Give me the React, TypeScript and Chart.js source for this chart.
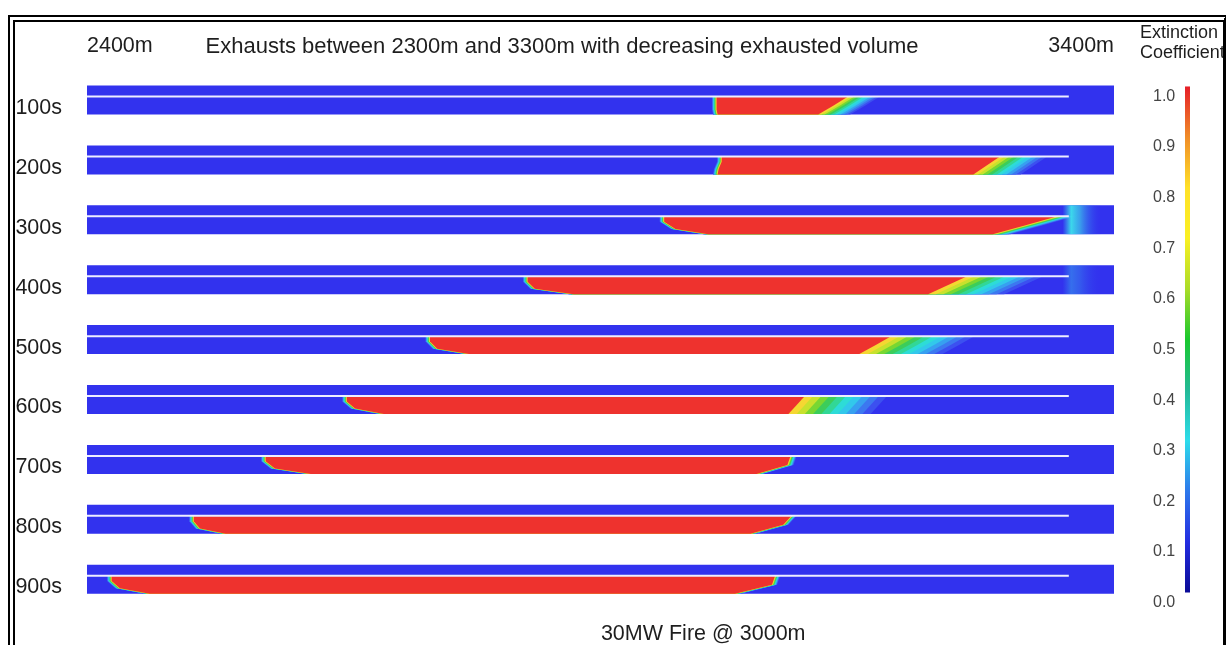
import React, { useEffect, useRef } from 'react';
import { Chart, registerables } from 'chart.js';

Chart.register(...registerables);

// ---------- data ----------
const times = ['100s', '200s', '300s', '400s', '500s', '600s', '700s', '800s', '900s'];
const axisEnds = [2400, 3400]; // tunnel section shown (m)
const ceilingEnd = 3356; // end of the exhaust duct / ceiling line (m)
const firePosition = 3000;
const fireLabel = '30MW Fire @ 3000m';
const titleText = 'Exhausts between 2300m and 3300m with decreasing exhausted volume';
const colorbarTitle = ['Extinction', 'Coefficient'];

// smoke layer (extinction coefficient ~1.0) boundaries, position in m
const leftFrontTop = [3013, 3018, 2962, 2829, 2734, 2653, 2574, 2504, 2424];
const leftFrontMid = [3013, 3015, 2973, 2836, 2741, 2661, 2583, 2510, 2432];
const leftFrontBottom = [3014, 3014, 3005, 2874, 2772, 2689, 2618, 2535, 2461];
const rightFrontTop = [3141, 3289, 3345, 3257, 3183, 3099, 3085, 3086, 3070];
const rightFrontMid = [3127, 3276, 3314, 3238, 3168, 3091, 3082, 3078, 3067];
const rightFrontBottom = [3112, 3263, 3282, 3219, 3152, 3083, 3052, 3046, 3031];
const plumeEnd = [3172, 3335, 3362, 3331, 3264, 3179, 3091, 3091, 3075];
const exhaustGlow = [0, 0, 0.95, 0.35, 0, 0, 0, 0, 0];

const colorbarTicks = [0, 0.1, 0.2, 0.3, 0.4, 0.5, 0.6, 0.7, 0.8, 0.9, 1.0];
const colorbarColors = [
  'rgb(10,10,150)', 'rgb(35,45,225)', 'rgb(45,120,235)', 'rgb(45,220,235)',
  'rgb(35,185,150)', 'rgb(25,200,45)', 'rgb(170,220,40)', 'rgb(250,240,35)',
  'rgb(255,225,40)', 'rgb(240,140,40)', 'rgb(230,30,40)',
];

// ---------- styles ----------
const FONT = '"Liberation Sans", Arial, Helvetica, sans-serif';
const BLUE = 'rgb(50,50,238)';
const RED = 'rgb(238,50,46)';
const ROW_HALF = 0.242;
const LINE_OFF = -0.058;
const LEFT_RIM = 4.5;
const rimShades: [number, string][] = [
  [1.0, 'rgb(60,80,240)'],
  [0.9, 'rgb(60,120,240)'],
  [0.8, 'rgb(55,160,240)'],
  [0.7, 'rgb(50,200,235)'],
  [0.6, 'rgb(45,220,215)'],
  [0.5, 'rgb(50,215,150)'],
  [0.4, 'rgb(60,205,90)'],
  [0.3, 'rgb(120,215,50)'],
  [0.2, 'rgb(200,225,45)'],
  [0.1, 'rgb(245,215,50)'],
];

function smokePolygon(i: number, sl: number, sr: number) {
  const yl = i + LINE_OFF;
  const yb = i + ROW_HALF;
  const h = yb - yl;
  return [
    { x: leftFrontTop[i] - sl, y: yl },
    { x: rightFrontTop[i] + sr, y: yl },
    { x: rightFrontMid[i] + sr, y: yl + 0.5 * h },
    { x: rightFrontBottom[i] + sr, y: yb },
    { x: leftFrontBottom[i] - sl, y: yb },
    { x: leftFrontMid[i] - sl, y: yl + 0.7 * h },
    { x: leftFrontTop[i] - sl, y: yl + 0.3 * h },
  ];
}

function buildDatasets() {
  const ds: any[] = [];
  const base = { fill: 'shape', borderWidth: 0, borderColor: 'transparent', pointRadius: 0 };
  times.forEach((_, i) => {
    ds.push({
      ...base,
      data: [
        { x: axisEnds[0], y: i - ROW_HALF },
        { x: axisEnds[1], y: i - ROW_HALF },
        { x: axisEnds[1], y: i + ROW_HALF },
        { x: axisEnds[0], y: i + ROW_HALF },
      ],
      backgroundColor: BLUE,
      order: 100,
    });
    const w = plumeEnd[i] - rightFrontTop[i];
    rimShades.forEach(([f, c], k) => {
      ds.push({
        ...base,
        data: smokePolygon(i, LEFT_RIM * f, w * f),
        backgroundColor: c,
        order: 90 - k,
      });
    });
    if (exhaustGlow[i] > 0) {
      const a = exhaustGlow[i];
      const from = ceilingEnd - 6;
      const to = ceilingEnd + 32;
      ds.push({
        ...base,
        data: [
          { x: from, y: i - ROW_HALF },
          { x: to, y: i - ROW_HALF },
          { x: to, y: i + ROW_HALF },
          { x: from, y: i + ROW_HALF },
        ],
        backgroundColor: (ctx: any) => {
          const chart = ctx.chart;
          const xs = chart.scales && chart.scales.x;
          if (!xs || !chart.chartArea) return 'transparent';
          const g = chart.ctx.createLinearGradient(xs.getPixelForValue(from), 0, xs.getPixelForValue(to), 0);
          g.addColorStop(0, 'rgba(60,210,235,0)');
          g.addColorStop(0.22, `rgba(60,225,235,${a})`);
          g.addColorStop(0.45, `rgba(60,190,235,${a * 0.8})`);
          g.addColorStop(1, 'rgba(50,50,238,0)');
          return g;
        },
        order: 60,
      });
    }
    ds.push({
      ...base,
      data: smokePolygon(i, 0, 0),
      backgroundColor: RED,
      order: 50,
    });
    ds.push({
      fill: false,
      data: [
        { x: axisEnds[0], y: i + LINE_OFF },
        { x: ceilingEnd, y: i + LINE_OFF },
      ],
      borderColor: 'rgb(238,238,255)',
      borderWidth: 2,
      pointRadius: 0,
      order: 10,
    });
  });
  return ds;
}

const overlayPlugin = {
  id: 'overlay',
  afterDraw(chart: any) {
    const ctx = chart.ctx;
    ctx.save();
    ctx.fillStyle = '#1e1e1e';
    ctx.font = `22px ${FONT}`;
    ctx.textAlign = 'center';
    ctx.textBaseline = 'alphabetic';
    ctx.fillText(titleText, 562, 53);
    ctx.font = `18px ${FONT}`;
    ctx.textAlign = 'left';
    ctx.fillText(colorbarTitle[0], 1140, 38);
    ctx.fillText(colorbarTitle[1], 1140, 58);
    const y2 = chart.scales.y2;
    const top = y2.getPixelForValue(colorbarTicks[colorbarTicks.length - 1]) - 10;
    const bottom = y2.getPixelForValue(colorbarTicks[0]) - 10;
    const g = ctx.createLinearGradient(0, bottom, 0, top);
    colorbarTicks.forEach((v, k) => g.addColorStop(v, colorbarColors[k]));
    ctx.fillStyle = g;
    ctx.fillRect(1185, top, 5, bottom - top);
    ctx.restore();
  },
};

const noPad = (s: any) => {
  s.paddingTop = 0;
  s.paddingBottom = 0;
  s.paddingLeft = 0;
  s.paddingRight = 0;
};

export default function App() {
  const ref = useRef<HTMLCanvasElement>(null);
  useEffect(() => {
    if (!ref.current) return;
    const chart = new Chart(ref.current, {
      type: 'line',
      data: { datasets: buildDatasets() },
      options: {
        responsive: false,
        animation: false,
        events: [],
        layout: { padding: 0 },
        elements: { point: { radius: 0 }, line: { tension: 0 } },
        plugins: { legend: { display: false }, tooltip: { enabled: false }, title: { display: false } },
        scales: {
          x: {
            type: 'linear',
            position: 'bottom',
            min: axisEnds[0],
            max: axisEnds[1],
            grid: { display: false, drawTicks: false },
            border: { display: false },
            afterBuildTicks: (s: any) => { s.ticks = [{ value: firePosition }]; },
            afterFit: (s: any) => { s.height = 29.9; noPad(s); },
            ticks: {
              callback: () => fireLabel,
              font: { family: FONT, size: 21.5 },
              color: '#1e1e1e',
              padding: 6,
              maxRotation: 0,
              minRotation: 0,
              autoSkip: false,
            },
          },
          x2: {
            type: 'linear',
            position: 'top',
            min: axisEnds[0],
            max: axisEnds[1],
            grid: { display: false, drawTicks: false },
            border: { display: false },
            afterBuildTicks: (s: any) => { s.ticks = axisEnds.map((v) => ({ value: v })); },
            afterFit: (s: any) => { s.height = 64.1; noPad(s); },
            ticks: {
              align: 'inner',
              callback: (v: any) => `${v}m`,
              font: { family: FONT, size: 21.5 },
              color: '#1e1e1e',
              padding: 5,
              maxRotation: 0,
              minRotation: 0,
              autoSkip: false,
            },
          },
          y: {
            type: 'linear',
            position: 'left',
            reverse: true,
            min: -0.6,
            max: 8.6,
            grid: { display: false, drawTicks: true, tickLength: 25 },
            border: { display: false },
            afterBuildTicks: (s: any) => { s.ticks = times.map((_, i) => ({ value: i })); },
            afterFit: (s: any) => { s.width = 87; noPad(s); },
            ticks: {
              callback: (_v: any, idx: number) => times[idx],
              font: { family: FONT, size: 21.5 },
              color: '#1e1e1e',
              padding: 0,
              labelOffset: 8,
              autoSkip: false,
            },
          },
          y2: {
            type: 'linear',
            position: 'right',
            min: -0.0249,
            max: 1.064,
            grid: { display: false, drawTicks: true, tickLength: 39 },
            border: { display: false },
            afterBuildTicks: (s: any) => { s.ticks = colorbarTicks.map((v) => ({ value: v })); },
            afterFit: (s: any) => { s.width = 112; noPad(s); },
            ticks: {
              callback: (v: any) => Number(v).toFixed(1),
              font: { family: FONT, size: 16 },
              color: '#444',
              padding: 0,
              autoSkip: false,
            },
          },
        },
      } as any,
      plugins: [overlayPlugin],
    });
    return () => chart.destroy();
  }, []);

  return (
    <div style={{ position: 'fixed', left: 0, top: 0, width: 1226, height: 645, background: '#fff', overflow: 'hidden' }}>
      <canvas ref={ref} width={1226} height={645} style={{ position: 'absolute', left: 0, top: 0, width: 1226, height: 645 }} />
      <div
        style={{
          position: 'absolute',
          left: 8,
          top: 15,
          width: 1218,
          height: 700,
          boxSizing: 'border-box',
          borderTop: '7px double #000',
          borderLeft: '7px double #000',
          borderRight: '3px solid #000',
          pointerEvents: 'none',
        }}
      />
    </div>
  );
}
